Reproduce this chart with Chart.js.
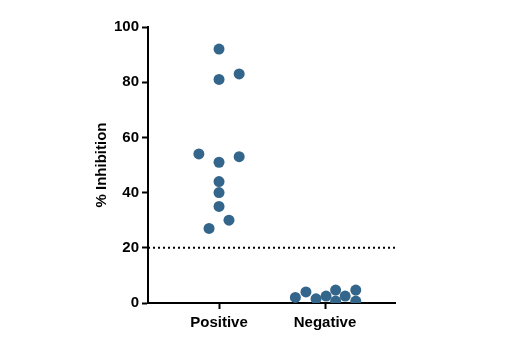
<!DOCTYPE html>
<html>
<head>
<meta charset="utf-8">
<script src="https://cdn.jsdelivr.net/npm/chart.js@4"></script>
<style>
  html, body { margin: 0; padding: 0; background: #fff; }
  #wrap { width: 520px; height: 350px; }
</style>
</head>
<body>
<div id="wrap"><canvas id="chart"></canvas></div>
<script>
const categories = ['Positive', 'Negative'];
const yTicks = [0, 20, 40, 60, 80, 100];
const cutoff = 20;

// % inhibition
const positiveVals = [92, 81, 83, 54, 51, 53, 44, 40, 35, 30, 27];
const negativeVals = [2, 4, 1.5, 2.5, 4.7, 0.7, 2.5, 4.7, 0.7];

// horizontal spread of the dots around each category (category units)
const positiveJitter = [0, 0, 0.19, -0.19, 0, 0.19, 0, 0, 0, 0.094, -0.094];
const negativeJitter = [-0.28, -0.18, -0.085, 0.01, 0.1, 0.1, 0.19, 0.29, 0.29];

const dotColor = '#33668a';
const font = 'Liberation Sans, Arial, sans-serif';

const positivePts = positiveVals.map((v, i) => ({ x: 1 + positiveJitter[i], y: v }));
const negativePts = negativeVals.map((v, i) => ({ x: 2 + negativeJitter[i], y: v }));

const xMin = 0.33, xMax = 2.66;

new Chart(document.getElementById('chart').getContext('2d'), {
  type: 'scatter',
  data: {
    datasets: [
      {
        type: 'line',
        label: 'cutoff',
        data: [{ x: xMin, y: cutoff }, { x: xMax, y: cutoff }],
        borderColor: '#000',
        borderWidth: 2,
        borderDash: [2, 3],
        pointRadius: 0,
        fill: false
      },
      {
        label: categories[0],
        data: positivePts,
        backgroundColor: dotColor,
        borderColor: dotColor,
        pointRadius: 5.5,
        borderWidth: 0
      },
      {
        label: categories[1],
        data: negativePts,
        backgroundColor: dotColor,
        borderColor: dotColor,
        pointRadius: 5.5,
        borderWidth: 0
      }
    ]
  },
  options: {
    responsive: true,
    maintainAspectRatio: false,
    animation: false,
    layout: { padding: { left: 93, right: 125, top: 27, bottom: 0 } },
    plugins: {
      legend: { display: false },
      tooltip: { enabled: false }
    },
    scales: {
      x: {
        type: 'linear',
        min: xMin,
        max: xMax,
        afterBuildTicks: scale => { scale.ticks = [{ value: 1 }, { value: 2 }]; },
        afterFit: scale => { scale.height = 47; },
        border: { color: '#000', width: 2 },
        grid: { drawOnChartArea: false, drawTicks: true, tickLength: 6, tickColor: '#000', tickWidth: 2 },
        ticks: {
          color: '#000',
          padding: 5,
          font: { family: font, size: 15, weight: 'bold' },
          callback: v => categories[v - 1]
        }
      },
      y: {
        min: 0,
        max: 100,
        afterBuildTicks: scale => { scale.ticks = yTicks.map(v => ({ value: v })); },
        afterFit: scale => { scale.width = 55; },
        border: { color: '#000', width: 2 },
        grid: { drawOnChartArea: false, drawTicks: true, tickLength: 6, tickColor: '#000', tickWidth: 2 },
        ticks: {
          color: '#000',
          padding: 3,
          font: { family: font, size: 15, weight: 'bold' }
        },
        title: {
          display: true,
          text: '% Inhibition',
          color: '#000',
          padding: 0,
          font: { family: font, size: 15, weight: 'bold' }
        }
      }
    }
  }
});
</script>
</body>
</html>
